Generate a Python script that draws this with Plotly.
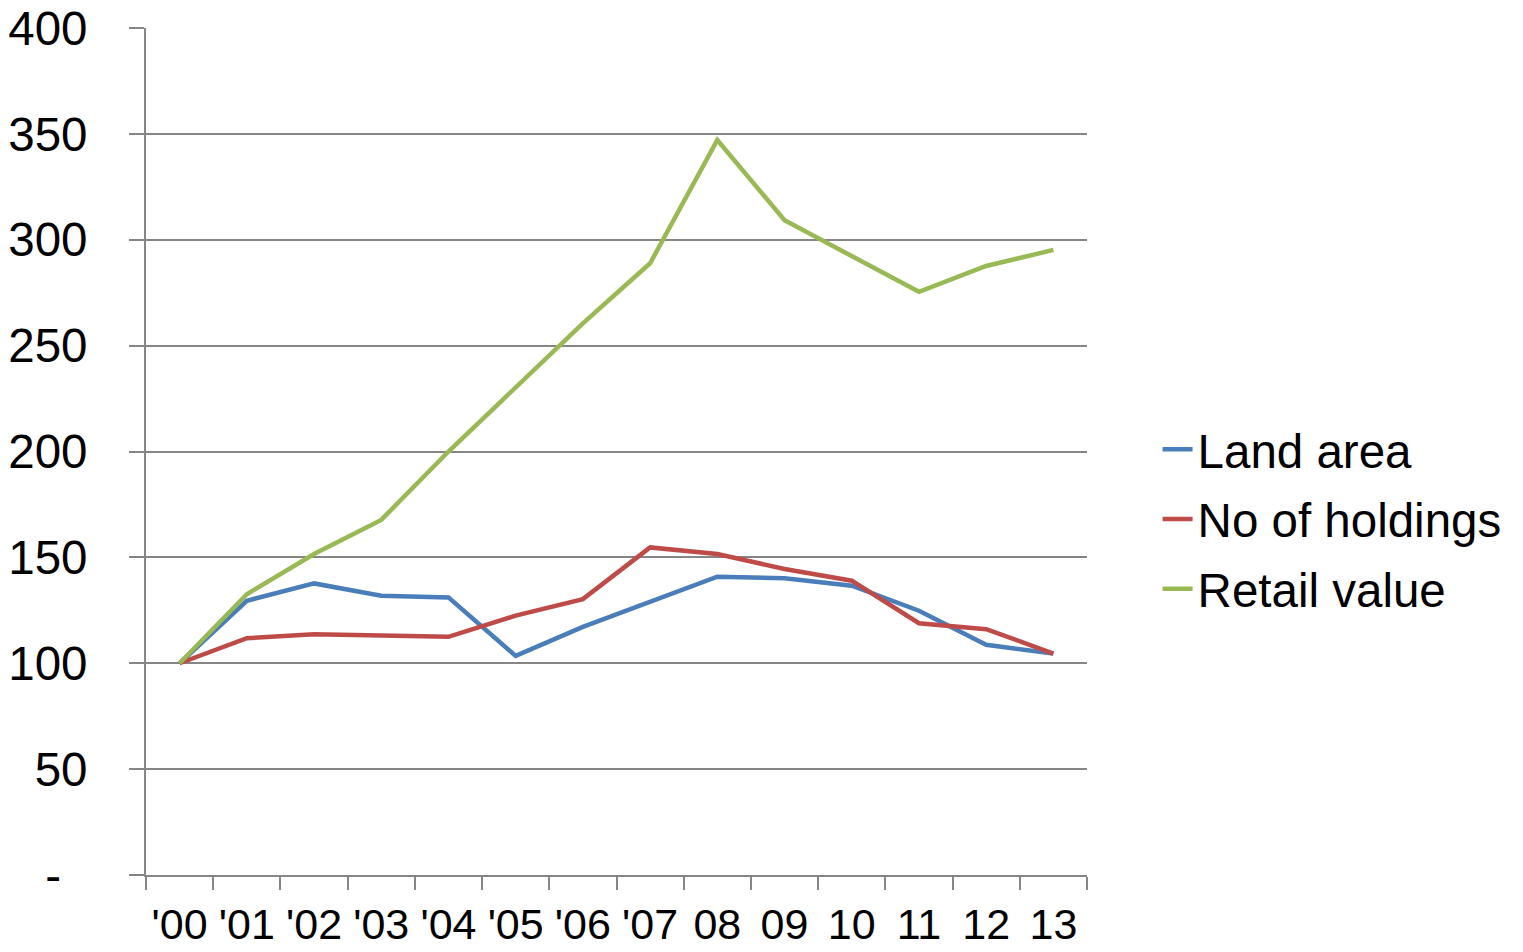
import plotly.graph_objects as go

years = ["'00", "'01", "'02", "'03", "'04", "'05", "'06", "'07", "08", "09", "10", "11", "12", "13"]
land_area = [100, 129.5, 137.7, 131.9, 131.1, 103.5, 117.2, 129, 140.9, 140.1, 136.6, 124.8, 108.7, 104.6]
holdings = [100, 111.8, 113.7, 112.9, 112.5, 122.5, 130.3, 154.7, 151.6, 144.5, 139, 118.9, 116.1, 104.6]
retail = [100, 132.6, 151.6, 167.7, 200, 230.5, 260.5, 288.9, 347.1, 309.2, 292, 275.4, 287.6, 295.2]

y_ticks = [0, 50, 100, 150, 200, 250, 300, 350, 400]
y_labels = ["-\u00a0\u00a0", "50", "100", "150", "200", "250", "300", "350", "400"]

series = [
    ("Land area", land_area, "#4A7EBB"),
    ("No of holdings", holdings, "#BE4B48"),
    ("Retail value", retail, "#98B954"),
]

FONT = "Liberation Sans, Arial, sans-serif"
fig = go.Figure()
for i, (name, vals, col) in enumerate(series):
    fig.add_trace(go.Scatter(
        x=years, y=vals, mode="lines", name=name,
        line=dict(color=col, width=4.5), legendgroup=str(i),
    ))

fig.update_layout(
    width=1523, height=952,
    margin=dict(l=146, r=436, t=28, b=77),
    plot_bgcolor="white", paper_bgcolor="white",
    font=dict(family=FONT, size=47, color="black"),
    showlegend=True,
    legend=dict(
        x=1.075, y=0.42, xanchor="left", yanchor="middle",
        font=dict(family=FONT, size=47.5, color="black"),
        traceorder="grouped", tracegroupgap=5,
        bgcolor="rgba(0,0,0,0)",
    ),
)
fig.update_xaxes(
    type="category", range=[-0.5, 13.5], automargin=False,
    showgrid=False, showline=True, linecolor="#868686", linewidth=2,
    ticks="outside", tickson="boundaries", ticklen=13, tickwidth=2, tickcolor="#868686",
    tickfont=dict(family=FONT, size=43, color="black"),
    tickangle=0, ticklabelstandoff=10,
)
fig.update_yaxes(
    range=[0, 400], tickvals=y_ticks, ticktext=y_labels, automargin=False,
    showgrid=True, gridcolor="#868686", gridwidth=2,
    showline=True, linecolor="#868686", linewidth=2,
    ticks="outside", ticklen=15, tickwidth=2, tickcolor="#868686",
    tickfont=dict(family=FONT, size=47.5, color="black"),
    ticklabelstandoff=32, zeroline=False,
)

fig.write_html("out.html")
